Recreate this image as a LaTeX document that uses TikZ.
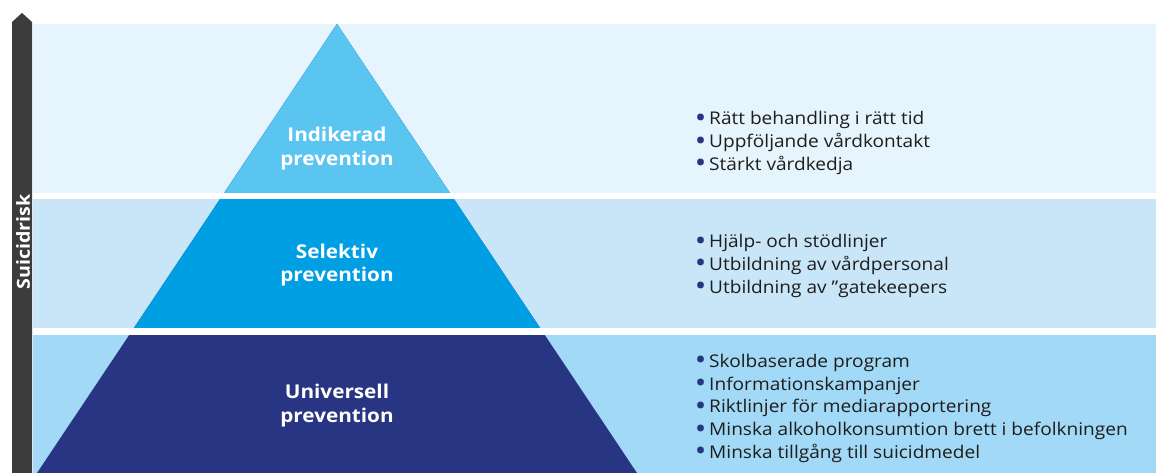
\documentclass[tikz,border=0pt]{standalone}
\usepackage{fontspec}
\setmainfont[FakeStretch=1.09]{Open Sans}
\usetikzlibrary{calc}
\definecolor{bandone}{HTML}{E6F4FD}
\definecolor{bandtwo}{HTML}{C9E6F9}
\definecolor{bandthree}{HTML}{A2D9F6}
\definecolor{topblue}{HTML}{5BC5F1}
\definecolor{midblue}{HTML}{009FE3}
\definecolor{navy}{HTML}{283583}
\definecolor{riskgray}{HTML}{3C3C3C}
\definecolor{bodytext}{HTML}{1D1D1B}
\newcommand{\bul}{\textcolor{navy}{\raisebox{-0.6pt}{\fontsize{22}{22}\selectfont\bfseries •}}\hspace{4pt}}
\tikzset{
  levellabel/.style={anchor=base,inner sep=0pt,white,font=\fontsize{19}{22}\selectfont\bfseries},
  measure/.style={anchor=base west,inner sep=0pt,text=bodytext,font=\fontsize{17.5}{21}\selectfont}
}

\begin{document}
\begin{tikzpicture}[x=1pt,y=-1pt]
\useasboundingbox (0,0) rectangle (1156,473);
% Background bands
\fill[bandone] (33,24) rectangle (1156,196);
\fill[bandtwo] (33,196) rectangle (1156,331.5);
\fill[bandthree] (33,331.5) rectangle (1156,473);
% Points of the pyramid
\coordinate (apex) at (337,24);
\coordinate (bl) at (37,473);
\coordinate (br) at (637,473);
% Pyramid layers, largest first
\fill[navy] (apex) -- (bl) -- (br) -- cycle;
\fill[midblue] (apex) -- ($(apex)!.6849!(bl)$) -- ($(apex)!.6849!(br)$) -- cycle;
\fill[topblue] (apex) -- ($(apex)!.3831!(bl)$) -- ($(apex)!.3831!(br)$) -- cycle;
% White gaps between the levels
\fill[white] (33,193) rectangle (1156,199.3);
\fill[white] (33,328.3) rectangle (1156,335);
% Risk arrow
\fill[riskgray] (12,473) -- (12,22) -- (22,13) -- (32,22) -- (32,473) -- cycle;
\node[rotate=90,white,inner sep=0pt,font=\fontsize{18}{20}\selectfont\bfseries] (risk) at (23,242) {Suicidrisk};
% Level names
\node[levellabel] (ind1) at (337,141.7) {Indikerad};
\node[levellabel] (ind2) at (337,165.7) {prevention};
\node[levellabel] (sel1) at (337,258.3) {Selektiv};
\node[levellabel] (sel2) at (337,281.7) {prevention};
\node[levellabel] (uni1) at (337,398) {Universell};
\node[levellabel] (uni2) at (337,422) {prevention};
% Measures for each level
\node[measure] (m11) at (696,125) {\bul Rätt behandling i rätt tid};
\node[measure] (m12) at (696,147.7) {\bul Uppföljande vårdkontakt};
\node[measure] (m13) at (696,170.3) {\bul Stärkt vårdkedja};
\node[measure] (m21) at (696,247.7) {\bul Hjälp- och stödlinjer};
\node[measure] (m22) at (696,270.3) {\bul Utbildning av vårdpersonal};
\node[measure] (m23) at (696,293) {\bul Utbildning av ”gatekeepers};
\node[measure] (m31) at (696,367.3) {\bul Skolbaserade program};
\node[measure] (m32) at (696,390) {\bul Informationskampanjer};
\node[measure] (m33) at (696,412.7) {\bul Riktlinjer för mediarapportering};
\node[measure] (m34) at (696,435.5) {\bul Minska alkoholkonsumtion brett i befolkningen};
\node[measure] (m35) at (696,458.2) {\bul Minska tillgång till suicidmedel};
\end{tikzpicture}
\end{document}
